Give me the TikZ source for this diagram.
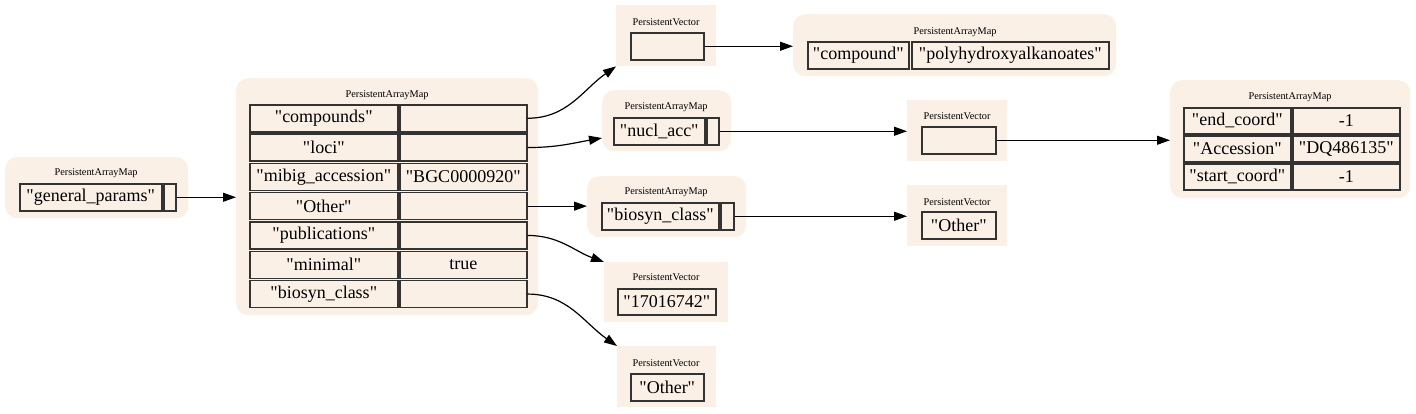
\documentclass[tikz,border=0pt]{standalone}
\usepackage{fontspec}
\setmainfont{Liberation Serif}[Ligatures=TeXOff]
\usepackage{xcolor}
\usepackage{tikz}
\usetikzlibrary{calc}
\usetikzlibrary{arrows.meta}
\usetikzlibrary{positioning}
\definecolor{linen}{HTML}{FAF0E6}
\colorlet{cellline}{black!80}

\begin{document}
\begin{tikzpicture}[
		x=1pt, y=-1pt,
		MapBox/.style={fill=linen,rounded corners=12pt,anchor=north west,inner sep=0pt},
		VecBox/.style={fill=linen,anchor=north west,inner sep=0pt},
		BoxTitle/.style={font=\fontsize{10.3}{12}\selectfont,inner sep=0pt},
		Cell/.style={draw=cellline,line width=1.5pt,anchor=north west,minimum height=27pt,inner sep=0pt,font=\fontsize{18}{20}\selectfont},
		Link/.style={-{Triangle[length=13pt,width=9pt]},line width=1.2pt}
		]
		\useasboundingbox (0,0) rectangle (1416,413);
		
		% cluster backgrounds
		\node[MapBox,minimum width=183pt,minimum height=61pt] (gpMap) at (5,157) {};
		\node[MapBox,minimum width=302pt,minimum height=237pt] (rootMap) at (236,78) {};
		\node[VecBox,minimum width=100pt,minimum height=61pt] (cmpdVec) at (616,5) {};
		\node[MapBox,minimum width=323pt,minimum height=62pt] (cmpdMap) at (793,14) {};
		\node[MapBox,minimum width=129pt,minimum height=61pt] (nuclMap) at (602,90) {};
		\node[VecBox,minimum width=100pt,minimum height=61pt] (lociVec) at (907,100) {};
		\node[MapBox,minimum width=240pt,minimum height=118pt] (locMap) at (1170,80) {};
		\node[MapBox,minimum width=159pt,minimum height=61pt] (classMap) at (587,176) {};
		\node[VecBox,minimum width=100pt,minimum height=61pt] (classVec) at (907,185) {};
		\node[VecBox,minimum width=124pt,minimum height=60pt] (pubVec) at (604,262) {};
		\node[VecBox,minimum width=99pt,minimum height=61pt] (otherVec) at (617,346) {};
		
		% titles
		\node[BoxTitle] (gpTitle) at (96,173) {PersistentArrayMap};
		\node[BoxTitle] (rootTitle) at (387,95) {PersistentArrayMap};
		\node[BoxTitle] (cmpdVecTitle) at (666,22) {PersistentVector};
		\node[BoxTitle] (cmpdMapTitle) at (955,32) {PersistentArrayMap};
		\node[BoxTitle] (nuclTitle) at (666,107) {PersistentArrayMap};
		\node[BoxTitle] (lociVecTitle) at (957,116) {PersistentVector};
		\node[BoxTitle] (locTitle) at (1290,97) {PersistentArrayMap};
		\node[BoxTitle] (classTitle) at (666,192) {PersistentArrayMap};
		\node[BoxTitle] (classVecTitle) at (957,202) {PersistentVector};
		\node[BoxTitle] (pubTitle) at (666,277) {PersistentVector};
		\node[BoxTitle] (otherTitle) at (666,363) {PersistentVector};
		
		% general_params
		\node[Cell,minimum width=142pt] (gpKey) at (19,183) {"general\_params"};
		\node[Cell,minimum width=12pt] (gpVal) at (163,183) {};
		
		% root map
		\node[Cell,minimum width=148pt] (compoundsKey) at (249,104) {"compounds"};
		\node[Cell,minimum width=127pt] (compoundsVal) at (399,104) {};
		\node[Cell,minimum width=148pt] (lociKey) at (249,133.3) {"loci"};
		\node[Cell,minimum width=127pt] (lociVal) at (399,133.3) {};
		\node[Cell,minimum width=148pt] (mibigKey) at (249,162.6) {"mibig\_accession"};
		\node[Cell,minimum width=127pt] (mibigVal) at (399,162.6) {"BGC0000920"};
		\node[Cell,minimum width=148pt] (otherKey) at (249,191.9) {"Other"};
		\node[Cell,minimum width=127pt] (otherVal) at (399,191.9) {};
		\node[Cell,minimum width=148pt] (pubKey) at (249,221.2) {"publications"};
		\node[Cell,minimum width=127pt] (pubVal) at (399,221.2) {};
		\node[Cell,minimum width=148pt] (minimalKey) at (249,250.5) {"minimal"};
		\node[Cell,minimum width=127pt] (minimalVal) at (399,250.5) {true};
		\node[Cell,minimum width=148pt] (classKey) at (249,279.8) {"biosyn\_class"};
		\node[Cell,minimum width=127pt] (classVal) at (399,279.8) {};
		
		% compounds
		\node[Cell,minimum width=73pt] (cmpdCell) at (630,32) {};
		\node[Cell,minimum width=101pt] (cmpdKey) at (807,41) {"compound"};
		\node[Cell,minimum width=197pt] (cmpdVal) at (911,41) {"polyhydroxyalkanoates"};
		
		% loci
		\node[Cell,minimum width=91pt] (nuclKey) at (613,117) {"nucl\_acc"};
		\node[Cell,minimum width=12pt] (nuclVal) at (706,117) {};
		\node[Cell,minimum width=74pt] (lociCell) at (921,126) {};
		\node[Cell,minimum width=107pt,minimum height=26pt] (endKey) at (1183,107) {"end\_coord"};
		\node[Cell,minimum width=107pt,minimum height=26pt] (endVal) at (1292,107) {-1};
		\node[Cell,minimum width=107pt,minimum height=26pt] (accKey) at (1183,135) {"Accession"};
		\node[Cell,minimum width=107pt,minimum height=26pt] (accVal) at (1292,135) {"DQ486135"};
		\node[Cell,minimum width=107pt,minimum height=26pt] (startKey) at (1183,163) {"start\_coord"};
		\node[Cell,minimum width=107pt,minimum height=26pt] (startVal) at (1292,163) {-1};
		
		% Other / biosyn_class
		\node[Cell,minimum width=117pt] (bcKey) at (601,202) {"biosyn\_class"};
		\node[Cell,minimum width=13pt] (bcVal) at (720,202) {};
		\node[Cell,minimum width=74pt] (classCell) at (921,211) {"Other"};
		
		% publications / biosyn_class
		\node[Cell,minimum width=98pt,minimum height=26pt] (pubCell) at (617,288) {"17016742"};
		\node[Cell,minimum width=73pt] (otherCell) at (630,373) {"Other"};
		
		\coordinate (lociTip) at (602,138);
		
		% links
		\draw[Link] (gpVal.east) -- (gpVal.east -| rootMap.west);
		\draw[Link] (compoundsVal.east) to[out=0,in=215] (cmpdVec.south west);
		\draw[Link] (lociVal.east) to[out=0,in=190] (lociTip);
		\draw[Link] (otherVal.east) -- (otherVal.east -| classMap.west);
		\draw[Link] (pubVal.east) to[out=0,in=160] (pubVec.north west);
		\draw[Link] (classVal.east) to[out=0,in=145] (otherVec.north west);
		\draw[Link] (cmpdCell.east) -- (cmpdCell.east -| cmpdMap.west);
		\draw[Link] (nuclVal.east) -- (nuclVal.east -| lociVec.west);
		\draw[Link] (lociCell.east) -- (lociCell.east -| locMap.west);
		\draw[Link] (bcVal.east) -- (bcVal.east -| classVec.west);
		
\end{tikzpicture}
\end{document}
